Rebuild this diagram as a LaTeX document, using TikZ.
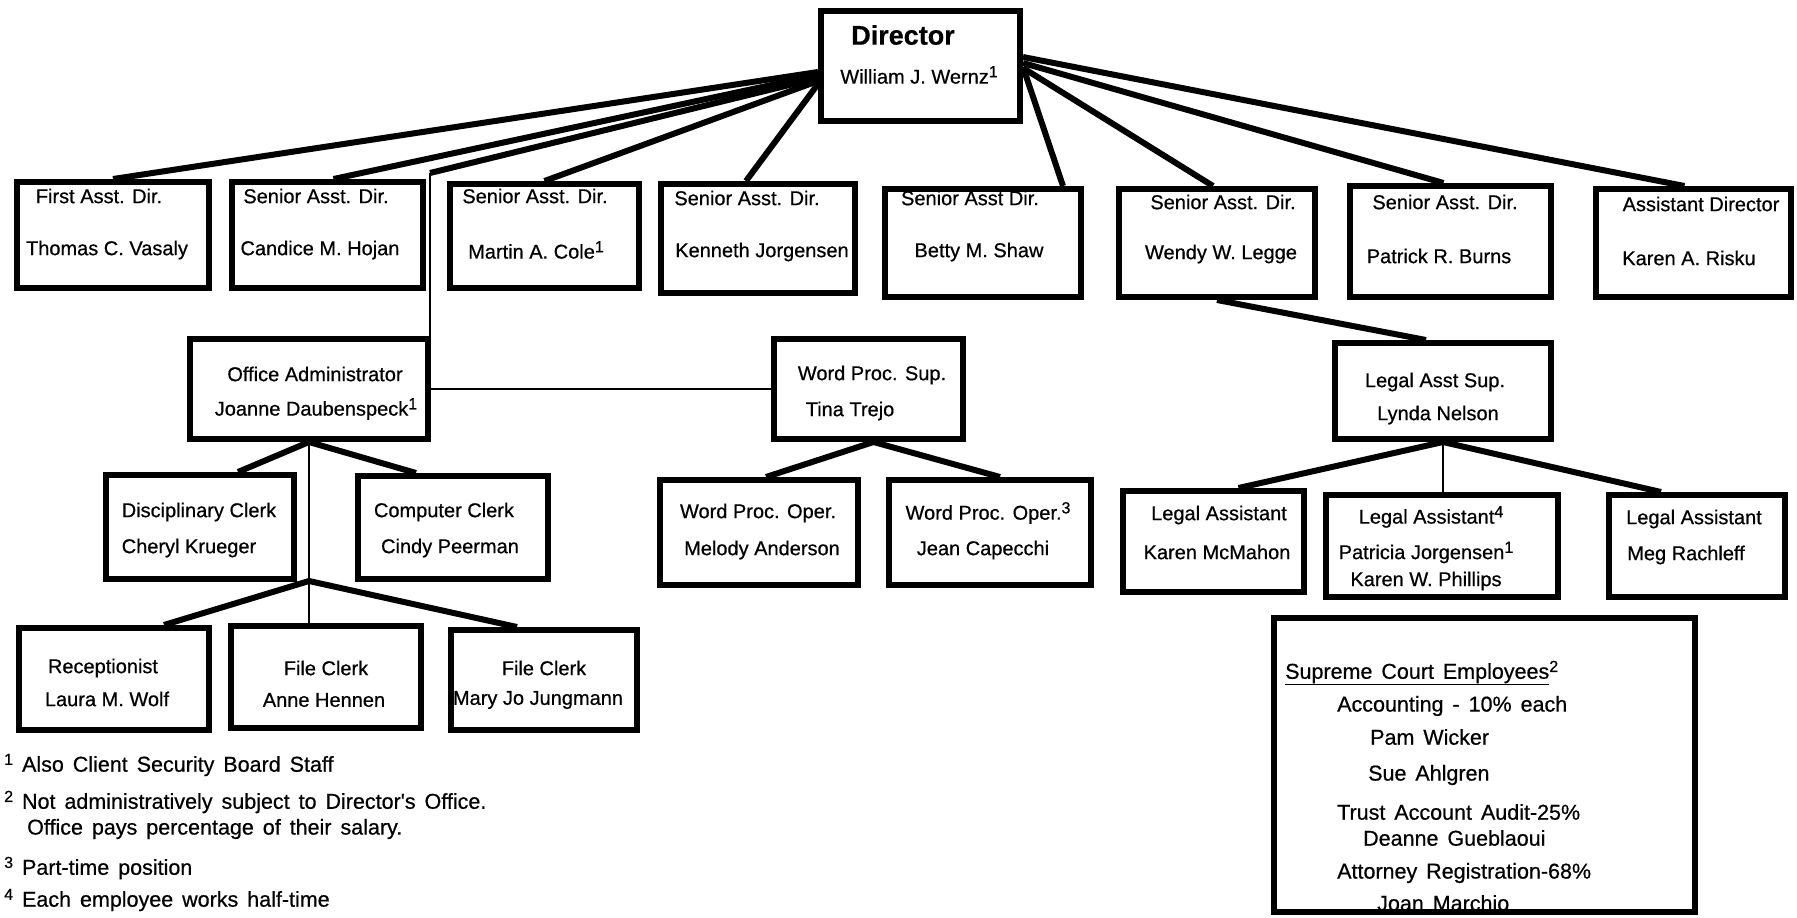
\documentclass[tikz,border=0pt]{standalone}
\usepackage{fontspec}
\setmainfont{Liberation Sans}[FakeBold=0.6]
\newfontfamily\notefont{Liberation Sans}[FakeBold=0.6,WordSpace=1.5]
\newcommand{\fnmark}[1]{\raisebox{0.6ex}{\fontsize{16}{16}\selectfont #1}}

\begin{document}
\begin{tikzpicture}[x=1pt,y=-1pt,
  orgbox/.style={draw,line width=6pt,inner sep=0pt},
  who/.style={font=\fontsize{20}{27}\selectfont,align=center,inner sep=0pt},
  note/.style={font=\notefont\fontsize{21.5}{24}\selectfont,anchor=west,inner sep=0pt},
  fatlink/.style={line width=6pt},
  thinlink/.style={line width=2.3pt}]
\useasboundingbox (0,0) rectangle (1797,918);

% director
\node[orgbox,minimum width=199,minimum height=110] (dir) at (920.5,66) {};
\node[who,font=\bfseries\fontsize{27}{30}\selectfont] (dir-t) at (903,35) {Director};
\node[who] (dir-n) at (919,75) {William J. Wernz\fnmark{1}};

% all staff boxes: name/left/top/right/bottom/title x/title y/name x/name y/title/person
\foreach \nm/\xl/\yt/\xr/\yb/\tx/\ty/\nx/\ny/\ttl/\wname in
{first/14/179/212/291/99/196/107/250/First Asst. Dir./Thomas C. Vasaly,
 cand/229/179/426/291/316/196/320/250/Senior Asst. Dir./Candice M. Hojan,
 martin/447/181/642/291/535/196/536/250/Senior Asst. Dir./Martin A. Cole\fnmark{1},
 kenn/658/181/858/296/747/198/762/252/Senior Asst. Dir./Kenneth Jorgensen,
 betty/882/186/1084/300/970/198/979/252/Senior Asst Dir./Betty M. Shaw,
 wendy/1116/186/1318/300/1223/202/1221/254/Senior Asst. Dir./Wendy W. Legge,
 patrick/1347/183/1554/300/1445/202/1439/256/Senior Asst. Dir./Patrick R. Burns,
 risku/1593/186/1794/300/1701/204/1689/258/Assistant Director/Karen A. Risku,
 oa/187/336/431/442/315/374/316/409/Office Administrator/Joanne Daubenspeck\fnmark{1},
 wps/771/336/966/442/872/375/850/411/Word Proc. Sup./Tina Trejo,
 las/1332/340/1554/442/1435/382/1438/415/Legal Asst Sup./Lynda Nelson,
 dc/103/472/297/582/199/512/189/548/Disciplinary Clerk/Cheryl Krueger,
 cc/355/473/551/582/444/512/450/548/Computer Clerk/Cindy Peerman,
 wpo1/657/477/861/588/758/513/762/550/Word Proc. Oper./Melody Anderson,
 wpo2/886/477/1094/588/988/513/983/550/Word Proc. Oper.\fnmark{3}/Jean Capecchi,
 la1/1120/488/1307/595/1219/515/1217/552/Legal Assistant/Karen McMahon,
 la2/1323/492/1561/600/1431/517/1426/566/Legal Assistant\fnmark{4}/Patricia Jorgensen\fnmark{1}\\Karen W. Phillips,
 la3/1606/492/1788/600/1694/519/1686/555/Legal Assistant/Meg Rachleff,
 rec/16/625/212/733/103/668/107/699/Receptionist/Laura M. Wolf,
 fc1/228/623/424/731/326/668/324/700/File Clerk/Anne Hennen,
 fc2/448/627/640/733/544/668/538/700/File Clerk/Mary Jo Jungmann}
{
  \node[orgbox,minimum width={\xr-\xl-6},minimum height={\yb-\yt-6}] (\nm) at ({(\xl+\xr)/2},{(\yt+\yb)/2}) {};
  \node[who] (\nm-t) at (\tx,\ty) {\ttl};
  \node[who] (\nm-n) at (\nx,\ny) {\wname};
}

% director fan
\foreach \dst/\dy/\dx in {first/-6/0,cand/-9/6,martin/-15/0,kenn/-18/-12}
  \draw[fatlink] ([yshift=\dy pt]dir.west) -- ([xshift=\dx pt]\dst.north);
\foreach \dst/\dy/\dx in {betty/-1/80,wendy/-2/-4,patrick/3/-7,risku/9/-9}
  \draw[fatlink] ([yshift=\dy pt]dir.east) -- ([xshift=\dx pt]\dst.north);

% office administrator branch
\coordinate (oa-turn) at (430,173);
\draw[fatlink] ([yshift=-12pt]dir.west) -- (oa-turn);
\draw[thinlink] (oa-turn) -- (oa-turn |- oa.north);
\draw[thinlink] (oa.east) -- (wps.west);
\path (oa.south) ++(0,139) coordinate (oa-fork);
\draw[fatlink] (oa.south) -- ([xshift=38pt]dc.north);
\draw[fatlink] (oa.south) -- ([xshift=-37pt]cc.north);
\draw[thinlink] (oa.south) -- (oa-fork);
\draw[fatlink] (oa-fork) -- ([xshift=50pt]rec.north);
\draw[thinlink] (oa-fork) -- (oa-fork |- fc1.north);
\draw[fatlink] (oa-fork) -- ([xshift=-27pt]fc2.north);

% word processing
\draw[fatlink] ([xshift=5pt]wps.south) -- ([xshift=7pt]wpo1.north);
\draw[fatlink] ([xshift=5pt]wps.south) -- ([xshift=10pt]wpo2.north);

% legal assistants
\draw[fatlink] (wendy.south) -- ([xshift=-17pt]las.north);
\draw[fatlink] (las.south) -- ([xshift=25pt]la1.north);
\draw[thinlink] (las.south) -- (las.south |- la2.north);
\draw[fatlink] (las.south) -- ([xshift=-36pt]la3.north);

% supreme court employees
\node[orgbox,minimum width=421,minimum height=294] (sce) at (1484.5,765) {};
\foreach \x/\y/\txt [count=\k] in
{1285/673/\underline{Supreme Court Employees}\fnmark{2},
 1337/706/Accounting - 10\% each,
 1370/737/Pam Wicker,
 1368/775/Sue Ahlgren,
 1337/812/Trust Account Audit-25\%,
 1363/838/Deanne Gueblaoui,
 1337/873/Attorney Registration-68\%,
 1377/903/Joan Marchio}
  \node[note] (sce-\k) at (\x,\y) {\txt};

% footnotes
\foreach \y/\txt [count=\k] in
{765/\fnmark{1} Also Client Security Board Staff,
 802/\fnmark{2} Not administratively subject to Director's Office.,
 868/\fnmark{3} Part-time position,
 900/\fnmark{4} Each employee works half-time}
  \node[note] (note-\k) at (4,\y) {\txt};
\node[note] (note-2b) at (27,829) {Office pays percentage of their salary.};
\end{tikzpicture}
\end{document}
